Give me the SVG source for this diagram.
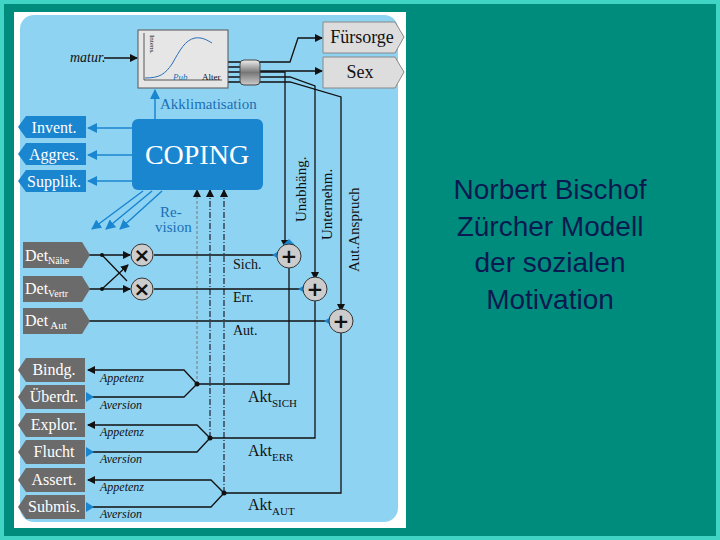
<svg xmlns="http://www.w3.org/2000/svg" width="720" height="540" viewBox="0 0 720 540">
<style>
.t{font-family:"Liberation Serif",serif;fill:#111}
.tag{fill:#6b6b6b}
.tt{font-family:"Liberation Serif",serif;fill:#fff;font-size:16px}
.bt{fill:#1a86d0}
.ln{stroke:#111;stroke-width:1.3;fill:none}
.bl{stroke:#1a86d0;stroke-width:1.5;fill:none}
.ds{stroke:#223;stroke-width:1.2;fill:none}
.it{font-family:"Liberation Serif",serif;font-style:italic;font-size:12px;fill:#111}
.circ{fill:#ccc;stroke:#333;stroke-width:1}
.op{font-family:"DejaVu Sans",sans-serif;font-weight:bold;font-size:20px;fill:#111;text-anchor:middle}
</style>
<defs>
<marker id="ak" markerWidth="8" markerHeight="8" refX="7" refY="4" orient="auto" markerUnits="userSpaceOnUse"><path d="M0,0 L8,4 L0,8 Z" fill="#111"/></marker>
<marker id="ab" markerWidth="10" markerHeight="10" refX="9" refY="5" orient="auto" markerUnits="userSpaceOnUse"><path d="M0,0 L10,5 L0,10 Z" fill="#1a86d0"/></marker>
<linearGradient id="cyl" x1="0" y1="0" x2="0" y2="1"><stop offset="0" stop-color="#eee"/><stop offset="0.5" stop-color="#777"/><stop offset="1" stop-color="#ccc"/></linearGradient>
</defs>
<rect width="720" height="540" fill="#008c7c"/>
<rect x="2" y="2" width="716" height="536" fill="none" stroke="#3fd4c4" stroke-width="4"/>
<rect x="14" y="12" width="392" height="516" fill="#fff"/>
<rect x="20" y="15" width="378" height="507" rx="14" fill="#8fd3f2"/>

<g id="connectors">
<line class="ln" x1="104" y1="58" x2="137" y2="58" marker-end="url(#ak)"/>
<path class="ln" d="M228,62 H290 L298,38 H322" marker-end="url(#ak)"/>
<path class="ln" d="M228,67 H260 M260,71 H322" marker-end="url(#ak)"/>
<path class="ln" d="M228,72 H285 V247" marker-end="url(#ak)"/>
<path class="ln" d="M228,77 H290 L315,86 V279" marker-end="url(#ak)"/>
<path class="ln" d="M228,82 H290 L341,97 V311" marker-end="url(#ak)"/>
<line class="bl" x1="155" y1="119" x2="155" y2="90" marker-end="url(#ab)"/>
<line class="bl" x1="132" y1="128" x2="88" y2="128" marker-end="url(#ab)"/>
<line class="bl" x1="132" y1="155" x2="88" y2="155" marker-end="url(#ab)"/>
<line class="bl" x1="132" y1="181" x2="88" y2="181" marker-end="url(#ab)"/>
<line class="bl" x1="143" y1="191" x2="92" y2="229" marker-end="url(#ab)"/>
<line class="bl" x1="152" y1="191" x2="106" y2="229" marker-end="url(#ab)"/>
<line class="bl" x1="162" y1="191" x2="120" y2="229" marker-end="url(#ab)"/>
<line x1="197" y1="384" x2="197" y2="190" stroke="#777" stroke-width="1" stroke-dasharray="3,2" marker-end="url(#ak)"/>
<line class="ds" x1="210" y1="438" x2="210" y2="190" stroke-dasharray="6,2,1,2" marker-end="url(#ak)"/>
<line class="ds" x1="224" y1="493" x2="224" y2="190" stroke-dasharray="6,2,1,2" marker-end="url(#ak)"/>
<path class="ln" d="M88,255 H130" marker-end="url(#ak)"/>
<path class="ln" d="M88,289 H130" marker-end="url(#ak)"/>
<path class="ln" d="M102,255 L127,281 M102,289 L128,265" marker-end="url(#ak)"/>
<circle cx="102" cy="255" r="2" fill="#111"/><circle cx="102" cy="289" r="2" fill="#111"/>
<line class="ln" x1="154" y1="255" x2="276" y2="255"/>
<line class="ln" x1="154" y1="289" x2="302" y2="289"/>
<line class="ln" x1="88" y1="321" x2="328" y2="321"/>
<path d="M279,251 L279,259 L272,255 Z M305,285 L305,293 L298,289 Z M331,317 L331,325 L324,321 Z M138,285 L138,293 L131,289 Z" fill="#1a86d0"/>
<path d="M283,245 L295,245 L289,239 Z" fill="#1a86d0"/>
<path class="ln" d="M289,268 V384 H197 L184,370 H88" marker-end="url(#ak)"/>
<path class="ln" d="M197,384 L184,397 H88"/>
<path class="ln" d="M315,301 V438 H210 L197,425 H88" marker-end="url(#ak)"/>
<path class="ln" d="M210,438 L197,452 H88"/>
<path class="ln" d="M341,333 V493 H224 L211,480 H88" marker-end="url(#ak)"/>
<path class="ln" d="M224,493 L211,507 H88"/>
<circle cx="197" cy="384" r="2.5" fill="#111"/><circle cx="210" cy="438" r="2.5" fill="#111"/><circle cx="224" cy="493" r="2.5" fill="#111"/>
<path d="M86,392 L94,397 L86,402 Z M86,447 L94,452 L86,457 Z M86,502 L94,507 L86,512 Z" fill="#1a86d0"/>
</g>

<g id="graph">
<rect x="138" y="30" width="90" height="58" fill="#e6e6e6" stroke="#555"/>
<path d="M144,80 V33 M144,80 H222" stroke="#333" fill="none" stroke-width="0.8"/>
<path d="M145,78 C160,78 165,74 172,64 C180,50 185,40 195,38 C202,37 207,40 212,43" stroke="#2a6fb5" fill="none" stroke-width="1"/>
<text x="150" y="35" font-family="Liberation Serif,serif" fill="#111" font-size="7" transform="rotate(90 150 35)">Intens.</text>
<text x="173" y="80" font-family="Liberation Serif,serif" font-size="9" font-style="italic" fill="#2a6fb5">Pub</text>
<text x="202" y="80" font-family="Liberation Serif,serif" font-size="9" fill="#111">Alter</text>
<text x="70" y="62" class="t" font-size="14" font-style="italic">matur.</text>
</g>
<g id="cylinder"><rect x="240" y="60" width="20" height="25" rx="4" fill="url(#cyl)" stroke="#444"/></g>
<g id="fuersorge"><path d="M323,22 H395 L404,37 L395,53 H323 Z" fill="#ddd" stroke="#888"/><text x="362" y="43" class="t" font-size="18" text-anchor="middle">Fürsorge</text></g>
<g id="sex"><path d="M323,57 H395 L404,72 L395,88 H323 Z" fill="#ddd" stroke="#888"/><text x="360" y="78" class="t" font-size="18" text-anchor="middle">Sex</text></g>
<text x="160" y="109" font-family="Liberation Serif,serif" font-size="15" fill="#1a6fb5">Akklimatisation</text>

<g id="coping"><rect x="132" y="119" width="131" height="71" rx="6" class="bt"/><text x="197" y="164" font-family="Liberation Serif,serif" font-size="28" fill="#fff" text-anchor="middle">COPING</text></g>
<g id="invent"><path d="M86,116 H26 L18,127 L26,138 H86 Z" class="bt"/><text x="54" y="133" class="tt" text-anchor="middle">Invent.</text></g>
<g id="aggres"><path d="M86,143 H26 L18,154 L26,165 H86 Z" class="bt"/><text x="54" y="160" class="tt" text-anchor="middle">Aggres.</text></g>
<g id="supplik"><path d="M86,170 H26 L18,181 L26,192 H86 Z" class="bt"/><text x="54" y="187" class="tt" text-anchor="middle">Supplik.</text></g>
<text x="160" y="217" font-family="Liberation Serif,serif" font-size="15" fill="#1a6fb5">Re-</text>
<text x="155" y="232" font-family="Liberation Serif,serif" font-size="15" fill="#1a6fb5">vision</text>

<text class="t" font-size="15" transform="translate(306,222) rotate(-90)">Unabhäng.</text>
<text class="t" font-size="15" transform="translate(332,240) rotate(-90)">Unternehm.</text>
<text class="t" font-size="15" transform="translate(359,272) rotate(-90)">Aut.Anspruch</text>

<g id="detnaehe"><path d="M23,242 H82 L90,255 L82,268 H23 Z" class="tag"/><text x="25" y="261" class="tt" font-size="17">Det<tspan font-size="10" dy="3">Nähe</tspan></text></g>
<g id="detvertr"><path d="M23,276 H82 L90,289 L82,302 H23 Z" class="tag"/><text x="25" y="294" class="tt" font-size="17">Det<tspan font-size="10" dy="3">Vertr</tspan></text></g>
<g id="detaut"><path d="M23,308 H82 L90,321 L82,334 H23 Z" class="tag"/><text x="25" y="326" class="tt" font-size="17">Det<tspan font-size="11" dy="3"> Aut</tspan></text></g>

<g id="mul1"><circle cx="142" cy="255" r="11" class="circ"/><text x="142" y="262" class="op">×</text></g>
<g id="mul2"><circle cx="142" cy="289" r="11" class="circ"/><text x="142" y="296" class="op">×</text></g>
<g id="plus1"><circle cx="289" cy="256" r="12" class="circ"/><text x="289" y="263" class="op">+</text></g>
<g id="plus2"><circle cx="315" cy="289" r="12" class="circ"/><text x="315" y="296" class="op">+</text></g>
<g id="plus3"><circle cx="341" cy="321" r="12" class="circ"/><text x="341" y="328" class="op">+</text></g>
<text x="233" y="269" class="t" font-size="14">Sich.</text>
<text x="233" y="302" class="t" font-size="14">Err.</text>
<text x="233" y="335" class="t" font-size="14">Aut.</text>

<g id="bindg"><path d="M85,358 H26 L18,370 L26,382 H85 Z" class="tag"/><text x="54" y="375" class="tt" text-anchor="middle">Bindg.</text></g>
<g id="ueberdr"><path d="M85,385 H26 L18,397 L26,409 H85 Z" class="tag"/><text x="54" y="402" class="tt" text-anchor="middle">Überdr.</text></g>
<g id="explor"><path d="M85,413 H26 L18,425 L26,437 H85 Z" class="tag"/><text x="54" y="430" class="tt" text-anchor="middle">Explor.</text></g>
<g id="flucht"><path d="M85,440 H26 L18,452 L26,464 H85 Z" class="tag"/><text x="54" y="457" class="tt" text-anchor="middle">Flucht</text></g>
<g id="assert"><path d="M85,468 H26 L18,480 L26,492 H85 Z" class="tag"/><text x="54" y="485" class="tt" text-anchor="middle">Assert.</text></g>
<g id="submis"><path d="M85,495 H26 L18,507 L26,519 H85 Z" class="tag"/><text x="54" y="512" class="tt" text-anchor="middle">Submis.</text></g>
<text x="100" y="382" class="it">Appetenz</text><text x="100" y="409" class="it">Aversion</text>
<text x="100" y="436" class="it">Appetenz</text><text x="100" y="463" class="it">Aversion</text>
<text x="100" y="491" class="it">Appetenz</text><text x="100" y="518" class="it">Aversion</text>
<text x="248" y="402" class="t" font-size="16">Akt<tspan font-size="11" dy="5">SICH</tspan></text>
<text x="248" y="456" class="t" font-size="16">Akt<tspan font-size="11" dy="5">ERR</tspan></text>
<text x="248" y="510" class="t" font-size="16">Akt<tspan font-size="11" dy="5">AUT</tspan></text>

<g font-family="Liberation Sans,sans-serif" font-size="28" fill="#0a1a50" text-anchor="middle">
<text x="550" y="199">Norbert Bischof</text>
<text x="550" y="236">Zürcher Modell</text>
<text x="550" y="272">der sozialen</text>
<text x="550" y="309">Motivation</text>
</g>
</svg>
